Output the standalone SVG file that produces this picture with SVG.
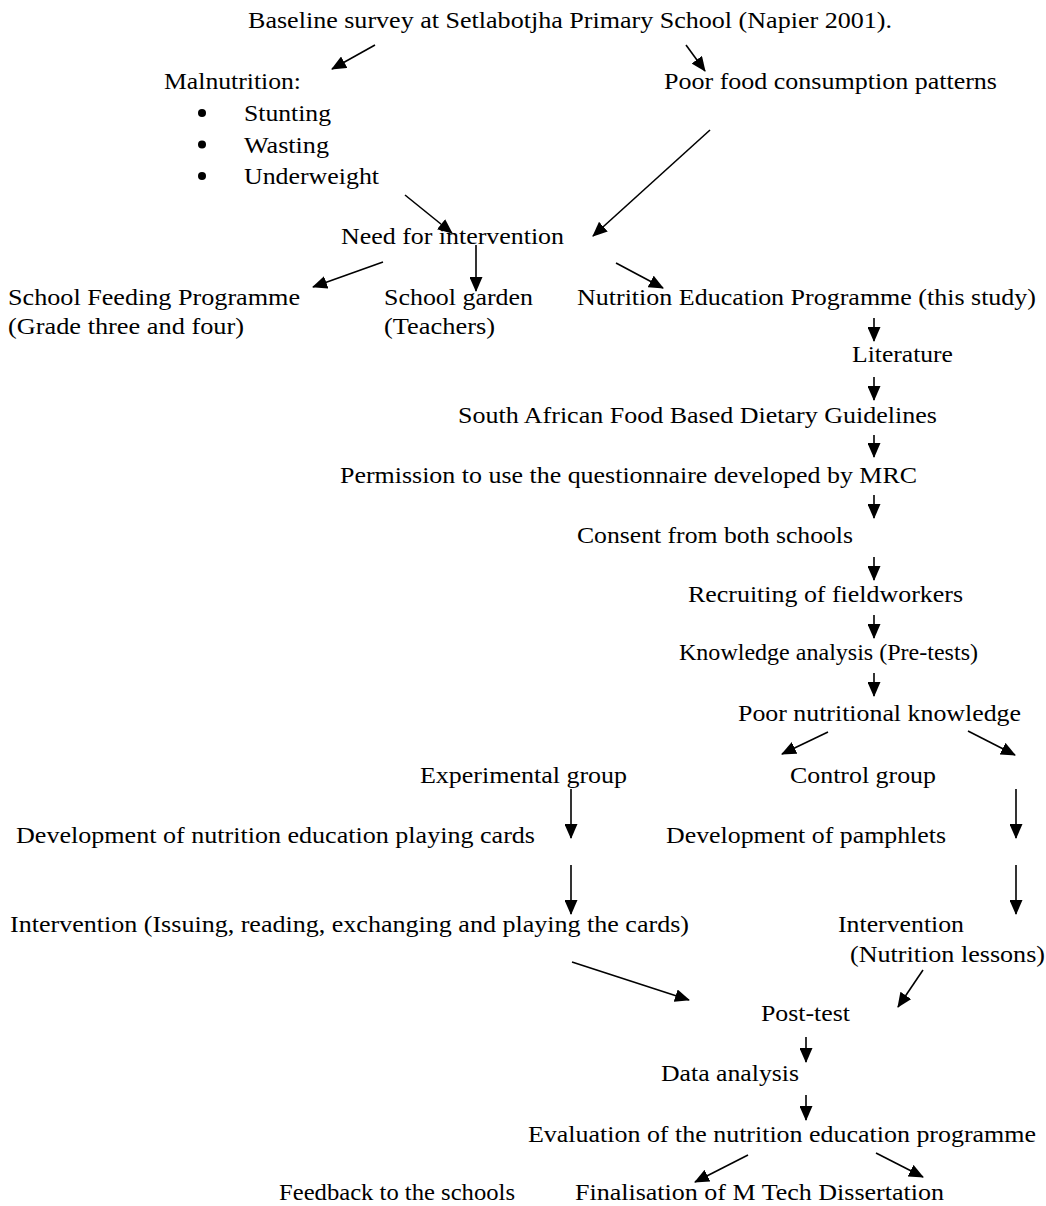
<svg xmlns="http://www.w3.org/2000/svg" width="1046" height="1206" viewBox="0 0 1046 1206">
<style>
text{font-family:'Liberation Serif',serif;font-size:23.5px;fill:#000}
.c line{stroke:#000;stroke-width:1.6;marker-end:url(#ah)}
</style>
<defs>
<marker id="ah" markerUnits="userSpaceOnUse" markerWidth="15" markerHeight="13" viewBox="0 0 15 13" refX="14" refY="6.5" orient="auto">
<path d="M0,0 L15,6.5 L0,13 Z" fill="#000"/>
</marker>
</defs>
<rect width="1046" height="1206" fill="#fff"/>
<g font-family="Liberation Serif, serif">
<g id="n-baseline"><text x="248" y="28" textLength="644" lengthAdjust="spacingAndGlyphs">Baseline survey at Setlabotjha Primary School (Napier 2001).</text></g>
<g id="n-malnutrition">
<text x="164" y="89" textLength="137" lengthAdjust="spacingAndGlyphs">Malnutrition:</text>
<circle cx="202" cy="113" r="4"/><text x="244" y="121" textLength="87" lengthAdjust="spacingAndGlyphs">Stunting</text>
<circle cx="202" cy="144.5" r="4"/><text x="244" y="153" textLength="85" lengthAdjust="spacingAndGlyphs">Wasting</text>
<circle cx="202" cy="176" r="4"/><text x="244" y="184" textLength="135" lengthAdjust="spacingAndGlyphs">Underweight</text>
</g>
<g id="n-poorfood"><text x="664" y="89" textLength="333" lengthAdjust="spacingAndGlyphs">Poor food consumption patterns</text></g>
<g id="n-need"><text x="341" y="244" textLength="223" lengthAdjust="spacingAndGlyphs">Need for intervention</text></g>
<g id="n-feeding"><text x="8" y="305" textLength="292" lengthAdjust="spacingAndGlyphs">School Feeding Programme</text><text x="8" y="334" textLength="236" lengthAdjust="spacingAndGlyphs">(Grade three and four)</text></g>
<g id="n-garden"><text x="384" y="305" textLength="149" lengthAdjust="spacingAndGlyphs">School garden</text><text x="384" y="334" textLength="111" lengthAdjust="spacingAndGlyphs">(Teachers)</text></g>
<g id="n-nep"><text x="577" y="305" textLength="459" lengthAdjust="spacingAndGlyphs">Nutrition Education Programme (this study)</text></g>
<g id="n-literature"><text x="852" y="362" textLength="101" lengthAdjust="spacingAndGlyphs">Literature</text></g>
<g id="n-safbdg"><text x="458" y="423" textLength="479" lengthAdjust="spacingAndGlyphs">South African Food Based Dietary Guidelines</text></g>
<g id="n-permission"><text x="340" y="483" textLength="577" lengthAdjust="spacingAndGlyphs">Permission to use the questionnaire developed by MRC</text></g>
<g id="n-consent"><text x="577" y="543" textLength="276" lengthAdjust="spacingAndGlyphs">Consent from both schools</text></g>
<g id="n-recruit"><text x="688" y="602" textLength="275" lengthAdjust="spacingAndGlyphs">Recruiting of fieldworkers</text></g>
<g id="n-knowledge"><text x="679" y="660" textLength="299" lengthAdjust="spacingAndGlyphs">Knowledge analysis (Pre-tests)</text></g>
<g id="n-poorknow"><text x="738" y="721" textLength="283" lengthAdjust="spacingAndGlyphs">Poor nutritional knowledge</text></g>
<g id="n-exp"><text x="420" y="783" textLength="207" lengthAdjust="spacingAndGlyphs">Experimental group</text></g>
<g id="n-control"><text x="790" y="783" textLength="146" lengthAdjust="spacingAndGlyphs">Control group</text></g>
<g id="n-cards"><text x="16" y="843" textLength="519" lengthAdjust="spacingAndGlyphs">Development of nutrition education playing cards</text></g>
<g id="n-pamphlets"><text x="666" y="843" textLength="280" lengthAdjust="spacingAndGlyphs">Development of pamphlets</text></g>
<g id="n-int1"><text x="10" y="932" textLength="679" lengthAdjust="spacingAndGlyphs">Intervention (Issuing, reading, exchanging and playing the cards)</text></g>
<g id="n-int2"><text x="838" y="932" textLength="126" lengthAdjust="spacingAndGlyphs">Intervention</text><text x="850" y="962" textLength="195" lengthAdjust="spacingAndGlyphs">(Nutrition lessons)</text></g>
<g id="n-post"><text x="761" y="1021" textLength="89" lengthAdjust="spacingAndGlyphs">Post-test</text></g>
<g id="n-data"><text x="661" y="1081" textLength="138" lengthAdjust="spacingAndGlyphs">Data analysis</text></g>
<g id="n-eval"><text x="528" y="1142" textLength="508" lengthAdjust="spacingAndGlyphs">Evaluation of the nutrition education programme</text></g>
<g id="n-feedback"><text x="279" y="1200" textLength="236" lengthAdjust="spacingAndGlyphs">Feedback to the schools</text></g>
<g id="n-final"><text x="575" y="1200" textLength="369" lengthAdjust="spacingAndGlyphs">Finalisation of M Tech Dissertation</text></g>
</g>
<g id="connectors" class="c">
<line x1="375" y1="45" x2="332" y2="69"/>
<line x1="686" y1="45" x2="705" y2="71"/>
<line x1="405" y1="195" x2="452" y2="233"/>
<line x1="710" y1="130" x2="593" y2="236"/>
<line x1="476" y1="245" x2="476" y2="291"/>
<line x1="383" y1="262" x2="313" y2="287"/>
<line x1="616" y1="263" x2="663" y2="288"/>
<line x1="874" y1="318" x2="874" y2="341"/>
<line x1="874" y1="377" x2="874" y2="400"/>
<line x1="874" y1="435" x2="874" y2="457"/>
<line x1="874" y1="495" x2="874" y2="518"/>
<line x1="874" y1="557" x2="874" y2="580"/>
<line x1="874" y1="615" x2="874" y2="638"/>
<line x1="874" y1="673" x2="874" y2="696"/>
<line x1="828" y1="732" x2="782" y2="754"/>
<line x1="968" y1="731" x2="1015" y2="755"/>
<line x1="571" y1="789" x2="571" y2="838"/>
<line x1="1016" y1="789" x2="1016" y2="838"/>
<line x1="571" y1="865" x2="571" y2="914"/>
<line x1="1016" y1="865" x2="1016" y2="914"/>
<line x1="572" y1="962" x2="689" y2="1000"/>
<line x1="923" y1="970" x2="898" y2="1007"/>
<line x1="806" y1="1037" x2="806" y2="1062"/>
<line x1="806" y1="1095" x2="806" y2="1120"/>
<line x1="748" y1="1155" x2="695" y2="1182"/>
<line x1="876" y1="1153" x2="923" y2="1177"/>
</g>
</svg>
